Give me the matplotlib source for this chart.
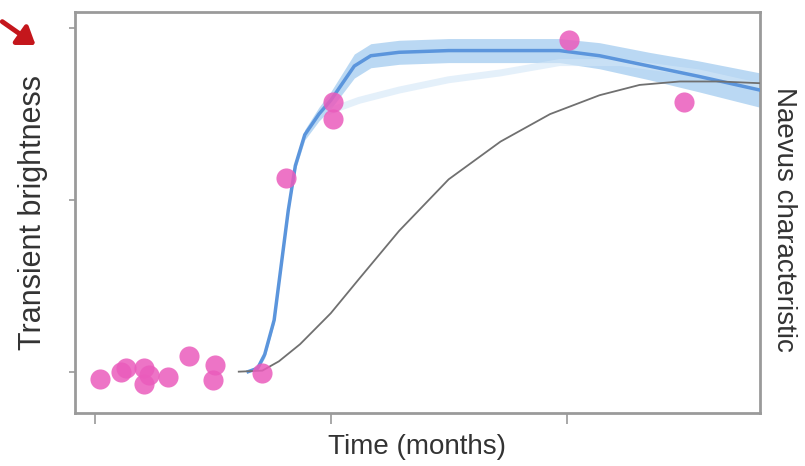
import matplotlib
matplotlib.use("Agg")
import matplotlib.pyplot as plt
import numpy as np

# observed brightness points (time in months, normalised brightness)
obs_t = [0.02, 0.11, 0.13, 0.21, 0.21, 0.23, 0.31, 0.40, 0.50, 0.51, 0.71, 0.81, 1.01, 1.01, 2.01, 2.50]
obs_y = [-0.02, 0.00, 0.01, 0.01, -0.035, -0.01, -0.015, 0.045, -0.025, 0.02, -0.005, 0.565, 0.785, 0.735, 0.965, 0.785]

# fitted transient curve (blue) and its band half-width
fit_t = [0.65, 0.69, 0.72, 0.76, 0.79, 0.82, 0.85, 0.89, 0.95, 1.00, 1.05, 1.10, 1.17, 1.29,
         1.50, 1.72, 1.97, 2.14, 2.35, 2.56, 2.82]
fit_y = [0.00, 0.01, 0.05, 0.15, 0.31, 0.47, 0.60, 0.69, 0.75, 0.79, 0.84, 0.89, 0.92, 0.93,
         0.935, 0.935, 0.935, 0.92, 0.89, 0.86, 0.82]
fit_w = [0.0, 0.005, 0.01, 0.01, 0.01, 0.01, 0.012, 0.015, 0.02, 0.025, 0.03, 0.035, 0.035, 0.035,
         0.035, 0.035, 0.035, 0.038, 0.04, 0.045, 0.05]

# a fainter lower posterior draw
alt_t = [1.00, 1.12, 1.29, 1.50, 1.72, 1.97, 2.23, 2.56, 2.82]
alt_y = [0.76, 0.79, 0.82, 0.85, 0.87, 0.90, 0.90, 0.87, 0.83]

# naevus characteristic (grey)
nae_t = [0.61, 0.71, 0.78, 0.87, 1.00, 1.12, 1.29, 1.50, 1.72, 1.93, 2.14, 2.31, 2.48, 2.65, 2.82]
nae_y = [0.00, 0.003, 0.03, 0.08, 0.17, 0.27, 0.41, 0.56, 0.67, 0.75, 0.805, 0.835, 0.845, 0.845, 0.84]

plt.rcParams['font.family'] = ['Liberation Sans', 'DejaVu Sans']

fig = plt.figure(figsize=(8.05, 4.66), dpi=100)
ax = fig.add_axes([0.093, 0.114, 0.851, 0.860])

fit_t = np.array(fit_t)
fit_y = np.array(fit_y)
fit_w = np.array(fit_w)
ax.fill_between(fit_t, fit_y - fit_w, fit_y + fit_w, color="#a9cff0", alpha=0.8, lw=0, zorder=2)
ax.plot(alt_t, alt_y, color="#d3e6f7", lw=5, alpha=0.6, zorder=2)
ax.plot(fit_t, fit_y, color="#5b95dc", lw=2.5, zorder=3)
ax.plot(nae_t, nae_y, color="#707070", lw=1.3, zorder=3)
ax.scatter(obs_t, obs_y, s=210, color="#ea5cbc", alpha=0.85, lw=0, zorder=4)

ax.set_xlim(-0.085, 2.82)
ax.set_ylim(-0.12, 1.047)
ax.set_xticks([0, 1, 2])
ax.set_yticks([0, 0.5, 1])
ax.set_xticklabels([])
ax.set_yticklabels([])
ax.tick_params(axis="x", length=8, width=1.2, color="#999999")
ax.tick_params(axis="y", length=4, width=1.2, color="#999999")
for s in ax.spines.values():
    s.set_color("#9a9a9a")
    s.set_linewidth(2)

ax.set_xlabel("Time (months)", fontsize=20, color="#333333", labelpad=4)
ax.set_ylabel("Transient brightness", fontsize=22, color="#333333", labelpad=12)
fig.text(0.974, 0.53, "Naevus characteristic", rotation=-90, fontsize=20, color="#333333",
         ha="center", va="center")

# red pointer arrow in the corner
fig.add_artist(matplotlib.patches.FancyArrowPatch((0.0, 0.957), (0.047, 0.900), transform=fig.transFigure,
                                                  arrowstyle="-|>,head_width=7,head_length=10",
                                                  color="#c4161c", lw=3.5))

fig.savefig("out.png", dpi=100)
